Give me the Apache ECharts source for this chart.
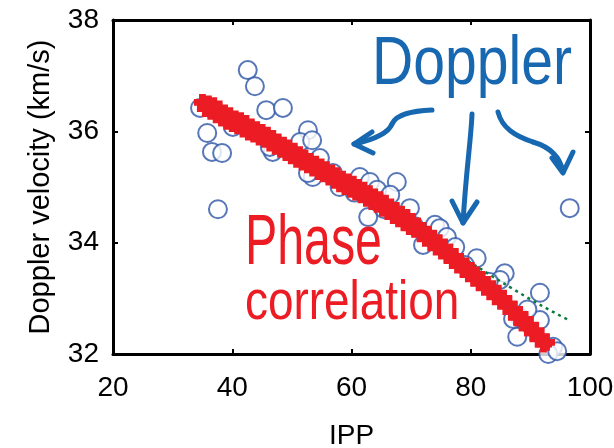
<!DOCTYPE html>
<html>
<head>
<meta charset="utf-8">
<script src="https://cdn.jsdelivr.net/npm/echarts@6/dist/echarts.min.js"></script>
<style>
  html, body { margin: 0; padding: 0; background: #fff; }
  #chart { width: 614px; height: 448px; }
</style>
</head>
<body>
<div id="chart"></div>
<script>
// axis ticks
var xTicks = [20, 40, 60, 80, 100];
var yTicks = [32, 34, 36, 38];

// Doppler estimates (blue circles): [IPP, velocity]
var dopplerPoints = [
  [34.6, 36.42], [35.8, 35.97], [36.6, 35.63], [38.3, 35.61], [37.6, 34.60],
  [42.6, 37.10], [43.8, 36.81], [45.7, 36.38], [48.5, 36.42], [40.1, 36.08],
  [52.7, 36.02], [46.8, 35.63], [46.3, 35.72], [51.4, 35.81], [53.5, 35.18],
  [54.7, 35.52], [56.9, 35.25], [61.4, 35.18], [63.1, 35.09], [64.3, 34.95],
  [67.6, 35.09], [66.5, 34.86], [62.8, 34.46], [69.8, 34.62], [74.0, 34.32],
  [74.8, 34.26], [76.0, 34.10], [77.4, 33.92], [72.0, 33.96], [81.0, 33.72],
  [85.7, 33.45], [91.6, 33.10], [88.3, 32.65], [87.8, 32.31], [91.6, 32.61],
  [93.8, 32.13], [93.0, 32.00], [84.9, 33.33], [96.6, 34.62], [87.1, 32.63],
  [94.5, 32.05], [52.7, 35.25], [58.0, 35.00], [60.5, 34.90], [65.5, 34.60],
  [70.5, 34.30], [79.0, 33.60], [83.0, 33.30], [89.5, 32.80], [53.4, 35.84]
];

// phase correlation estimates (red crosses)
var phasePoints = [
  [35.0, 36.52], [35.5, 36.41], [36.0, 36.49], [36.4, 36.36], [36.9, 36.46],
  [37.3, 36.30], [37.8, 36.40], [38.2, 36.24], [38.7, 36.33], [39.1, 36.18],
  [39.6, 36.28], [40.0, 36.14], [40.5, 36.22], [40.9, 36.10], [41.4, 36.19],
  [41.8, 36.04], [42.3, 36.14], [42.7, 35.99], [43.2, 36.08], [43.6, 35.95],
  [44.1, 36.03], [44.5, 35.90], [45.0, 35.98], [45.4, 35.86], [45.9, 35.93],
  [46.3, 35.79], [46.8, 35.87], [47.2, 35.73], [47.7, 35.81], [48.1, 35.68],
  [48.6, 35.75], [49.0, 35.62], [49.5, 35.70], [49.9, 35.56], [50.4, 35.64],
  [50.8, 35.50], [51.3, 35.58], [51.7, 35.45], [52.2, 35.52], [52.6, 35.40],
  [53.1, 35.46], [53.5, 35.34], [54.0, 35.41], [54.4, 35.28], [54.9, 35.36],
  [55.3, 35.24], [55.8, 35.31], [56.2, 35.18], [56.7, 35.25], [57.1, 35.12],
  [57.6, 35.20], [58.0, 35.06], [58.5, 35.14], [58.9, 35.01], [59.4, 35.09],
  [59.8, 34.96], [60.3, 35.05], [60.7, 34.91], [61.2, 34.99], [61.6, 34.86],
  [62.1, 34.94], [62.5, 34.80], [63.0, 34.88], [63.4, 34.74], [63.9, 34.82],
  [64.3, 34.69], [64.8, 34.77], [65.2, 34.62], [65.7, 34.71], [66.1, 34.56],
  [66.6, 34.64], [67.0, 34.49], [67.5, 34.58], [67.9, 34.43], [68.4, 34.51],
  [68.8, 34.36], [69.3, 34.45], [69.7, 34.29], [70.2, 34.38], [70.6, 34.24],
  [71.1, 34.30], [71.5, 34.16], [72.0, 34.22], [72.4, 34.08], [72.9, 34.15],
  [73.3, 34.00], [73.8, 34.08], [74.2, 33.92], [74.7, 34.00], [75.1, 33.85],
  [75.6, 33.92], [76.0, 33.78], [76.5, 33.83], [76.9, 33.68], [77.4, 33.75],
  [77.8, 33.60], [78.3, 33.66], [78.7, 33.52], [79.2, 33.58], [79.6, 33.44],
  [80.1, 33.50], [80.5, 33.36], [81.0, 33.42], [81.4, 33.28], [81.9, 33.34],
  [82.3, 33.20], [82.8, 33.25], [83.2, 33.12], [83.7, 33.17], [84.1, 33.03],
  [84.6, 33.09], [85.0, 32.95], [85.5, 33.00], [85.9, 32.86], [86.4, 32.90],
  [86.8, 32.76], [87.3, 32.80], [87.7, 32.66], [88.2, 32.71], [88.6, 32.56],
  [89.1, 32.62], [89.5, 32.47], [90.0, 32.52], [90.4, 32.38], [90.9, 32.42],
  [91.3, 32.27], [91.8, 32.31], [92.2, 32.18], [92.7, 32.21]
];

// fitted trend (green dotted line)
var trendLine = [
  [35.0, 36.48], [49.0, 35.64], [54.7, 35.27], [65.0, 34.60],
  [76.5, 33.87], [89.4, 33.02], [96.6, 32.60]
];

var chart = echarts.init(document.getElementById('chart'));

var labelFont = { fontFamily: 'Liberation Sans', fontSize: 28, color: '#000' };
var boxLine = { show: true, onZero: false, lineStyle: { color: '#000', width: 3 } };
var innerTick = { show: true, inside: true, length: 5, lineStyle: { color: '#000', width: 2 } };
var arrowStyle = { fill: 'none', stroke: '#1768b1', lineWidth: 5, lineCap: 'round', lineJoin: 'round' };

function curve(x1, y1, cx1, cy1, cx2, cy2, x2, y2) {
  return { type: 'bezierCurve', z: 10, style: arrowStyle,
    shape: { x1: x1, y1: y1, cpx1: cx1, cpy1: cy1, cpx2: cx2, cpy2: cy2, x2: x2, y2: y2 } };
}
function head(pts) {
  return { type: 'polyline', z: 10, style: arrowStyle, shape: { points: pts } };
}

var option = {
  animation: false,
  backgroundColor: '#fff',
  grid: { left: 113, right: 24, top: 20, bottom: 94, containLabel: false, outerBoundsMode: 'none' },
  xAxis: [
    {
      type: 'value', min: 20, max: 100, interval: 20,
      name: 'IPP', nameLocation: 'middle', nameGap: 68,
      nameTextStyle: { fontFamily: 'Liberation Sans', fontSize: 28, color: '#000' },
      axisLine: boxLine, axisTick: innerTick,
      axisLabel: Object.assign({ margin: 20 }, labelFont),
      splitLine: { show: false }
    },
    {
      type: 'value', min: 20, max: 100, interval: 20, position: 'top',
      axisLine: boxLine, axisTick: innerTick,
      axisLabel: { show: false }, splitLine: { show: false }
    }
  ],
  yAxis: [
    {
      type: 'value', min: 32, max: 38, interval: 2,
      name: 'Doppler velocity (km/s)', nameLocation: 'middle', nameGap: 58,
      nameTextStyle: { fontFamily: 'Liberation Sans', fontSize: 29, color: '#000' },
      axisLine: boxLine, axisTick: innerTick,
      axisLabel: Object.assign({ margin: 14 }, labelFont),
      splitLine: { show: false }
    },
    {
      type: 'value', min: 32, max: 38, interval: 2, position: 'right',
      axisLine: boxLine, axisTick: innerTick,
      axisLabel: { show: false }, splitLine: { show: false }
    }
  ],
  series: [
    {
      name: 'Doppler',
      type: 'scatter',
      data: dopplerPoints,
      symbol: 'emptyCircle',
      symbolSize: 18,
      itemStyle: { color: '#2d55a6', borderWidth: 2 },
      z: 2
    },
    {
      name: 'trend',
      type: 'line',
      data: trendLine,
      showSymbol: false,
      smooth: true,
      lineStyle: { color: '#0b7a3b', width: 2.5, type: [3, 4] },
      z: 3
    },
    {
      name: 'Phase correlation',
      type: 'scatter',
      data: phasePoints,
      symbol: 'path://M3,0 L7,0 L7,3 L10,3 L10,7 L7,7 L7,10 L3,10 L3,7 L0,7 L0,3 L3,3 Z',
      symbolSize: 17,
      itemStyle: { color: '#ec1c24', opacity: 1 },
      z: 4
    }
  ],
  graphic: [
    { type: 'text', x: 372, y: 31, scaleX: 0.84, z: 10,
      style: { text: 'Doppler', fill: '#1768b1', font: '68px "Liberation Sans"' } },
    { type: 'text', x: 245, y: 210, scaleX: 0.69, z: 10,
      style: { text: 'Phase', fill: '#ec1c24', font: '70px "Liberation Sans"' } },
    { type: 'text', x: 245, y: 276, scaleX: 0.82, z: 10,
      style: { text: 'correlation', fill: '#ec1c24', font: '56px "Liberation Sans"' } },
    // arrows
    curve(432, 110, 412, 111, 396, 114, 392, 124),
    curve(392, 124, 388, 134, 372, 140, 354, 144),
    head([[372, 132], [354, 144], [373, 153]]),
    curve(472, 114, 471, 140, 466, 170, 463, 223),
    head([[452, 201], [463, 223], [477, 202]]),
    curve(498, 112, 502, 128, 515, 136, 533, 142),
    curve(533, 142, 550, 147, 560, 156, 563, 172),
    head([[552, 158], [563, 173], [573, 152]])
  ]
};

chart.setOption(option);
</script>
</body>
</html>
